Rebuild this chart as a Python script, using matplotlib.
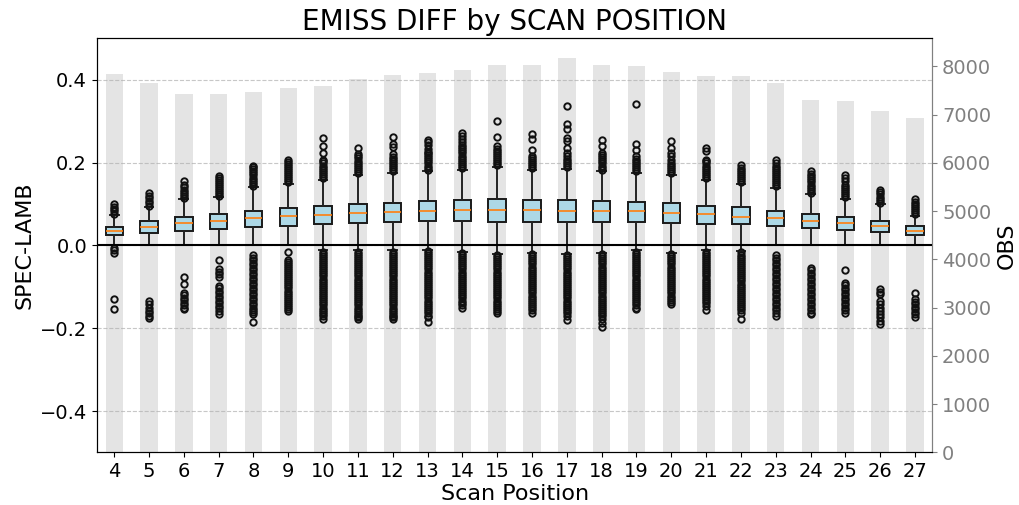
import matplotlib
matplotlib.use("Agg")
import matplotlib.pyplot as plt

positions = list(range(4, 28))
obs_counts = [7849, 7663, 7428, 7428, 7463, 7552, 7593, 7737, 7820, 7869, 7923, 8035,
              8035, 8171, 8035, 8006, 7882, 7799, 7799, 7649, 7312, 7277, 7077, 6920]

# box statistics (SPEC-LAMB)
q1 = [0.025, 0.031, 0.035, 0.039, 0.044, 0.048, 0.052, 0.055, 0.057, 0.059, 0.059, 0.057,
      0.057, 0.057, 0.057, 0.057, 0.055, 0.051, 0.051, 0.047, 0.042, 0.038, 0.033, 0.024]
med = [0.0345, 0.044, 0.053, 0.059, 0.066, 0.071, 0.074, 0.079, 0.081, 0.084, 0.086, 0.086,
       0.086, 0.083, 0.083, 0.083, 0.079, 0.075, 0.069, 0.066, 0.060, 0.053, 0.047, 0.036]
q3 = [0.045, 0.058, 0.068, 0.075, 0.084, 0.090, 0.095, 0.101, 0.103, 0.108, 0.109, 0.111,
      0.110, 0.110, 0.108, 0.105, 0.103, 0.096, 0.092, 0.084, 0.076, 0.068, 0.060, 0.047]
whis_lo = [0.0, 0.0, 0.0, 0.0, 0.0, 0.0, -0.012, -0.012, -0.012, -0.010, -0.015, -0.020,
           -0.018, -0.020, -0.018, -0.012, -0.018, -0.012, -0.014, 0.0, 0.0, 0.0, 0.0, 0.0]
whis_hi = [0.073, 0.093, 0.112, 0.116, 0.141, 0.149, 0.159, 0.171, 0.175, 0.179, 0.183, 0.190,
           0.183, 0.185, 0.179, 0.175, 0.171, 0.159, 0.149, 0.139, 0.123, 0.112, 0.099, 0.072]

# outliers, in thousandths
fliers_high = [
    [76, 82, 88, 94, 100],
    [96, 102, 108, 114, 120, 126],
    [115, 120, 125, 130, 135, 140, 145, 155],
    [119, 124, 129, 134, 139, 144, 149, 154, 159, 164, 167],
    [144, 149, 154, 159, 164, 169, 174, 179, 184, 189, 193],
    [152, 157, 162, 167, 172, 177, 182, 187, 192, 197, 202, 207],
    [163, 168, 173, 178, 183, 188, 193, 198, 203, 207, 224, 239, 260],
    [175, 180, 185, 190, 195, 200, 205, 210, 215, 220, 235],
    [179, 184, 189, 194, 199, 204, 209, 214, 220, 238, 246, 262],
    [183, 188, 193, 198, 203, 208, 213, 218, 222, 226, 234, 242, 250, 255],
    [187, 192, 197, 202, 207, 212, 217, 222, 227, 232, 237, 242, 250, 258, 265, 271],
    [194, 199, 204, 209, 214, 219, 224, 229, 234, 239, 261, 300],
    [187, 192, 197, 202, 207, 211, 215, 230, 257, 269],
    [189, 194, 199, 204, 209, 215, 223, 235, 251, 259, 281, 293, 337],
    [183, 188, 193, 198, 203, 208, 213, 218, 223, 239, 255],
    [179, 184, 189, 194, 199, 204, 209, 215, 230, 246, 341],
    [175, 180, 185, 190, 195, 200, 207, 215, 223, 235, 251],
    [163, 168, 173, 178, 183, 188, 193, 198, 203, 207, 227, 235],
    [153, 158, 163, 168, 173, 178, 183, 188, 195],
    [143, 148, 153, 158, 163, 168, 173, 178, 183, 188, 193, 198, 207],
    [127, 132, 137, 142, 147, 152, 157, 162, 167, 172, 179],
    [116, 121, 126, 131, 136, 141, 147, 155, 163, 171],
    [103, 108, 113, 118, 123, 128, 135],
    [76, 81, 86, 91, 96, 101, 106, 111],
]
fliers_low = [
    [-6, -12, -19, -130, -153],
    [-134, -142, -150, -158, -164, -170, -176],
    [-76, -94, -114, -120, -126, -132, -138, -144, -150, -154],
    [-34, -58, -64, -70, -77, -98, -104, -110, -116, -122, -128, -134, -140, -146, -152, -158, -166],
    [-24, -30, -36, -42, -48, -54, -60, -66, -72, -78, -84, -90, -96, -102, -108, -114, -120,
     -126, -132, -138, -144, -150, -156, -161, -166, -185],
    [-16, -34, -39, -44, -49, -54, -59, -64, -69, -74, -79, -84, -89, -94, -99, -104, -109, -114,
     -119, -124, -129, -134, -139, -144, -149, -154, -158],
    [-15, -20, -25, -30, -35, -40, -45, -50, -55, -60, -65, -70, -75, -80, -85, -90, -95, -100,
     -105, -110, -115, -120, -125, -130, -135, -140, -145, -150, -155, -160, -165, -170, -177],
    [-15, -20, -25, -30, -35, -40, -45, -50, -55, -60, -65, -70, -75, -80, -85, -90, -95, -100,
     -105, -110, -115, -120, -125, -130, -135, -140, -145, -150, -155, -160, -165, -170, -174, -178],
    [-15, -20, -25, -30, -35, -40, -45, -50, -55, -60, -65, -70, -75, -80, -85, -90, -95, -100,
     -105, -110, -115, -120, -125, -130, -135, -140, -145, -150, -155, -160, -165, -170, -174, -178],
    [-13, -18, -23, -28, -33, -38, -43, -48, -53, -58, -63, -68, -73, -78, -83, -88, -93, -98,
     -103, -108, -113, -118, -123, -128, -133, -138, -143, -148, -153, -158, -163, -170, -174, -186],
    [-18, -23, -28, -33, -38, -43, -48, -53, -58, -63, -68, -73, -78, -83, -88, -93, -98, -103,
     -108, -113, -118, -123, -128, -133, -138, -143, -150],
    [-23, -28, -33, -38, -43, -48, -53, -58, -63, -68, -73, -78, -83, -88, -93, -98, -103, -108,
     -113, -118, -123, -128, -133, -138, -143, -148, -153, -158, -162],
    [-21, -26, -31, -36, -41, -46, -51, -56, -61, -66, -71, -76, -81, -86, -91, -96, -101, -106,
     -111, -116, -121, -126, -131, -136, -141, -146, -151, -156, -162],
    [-23, -28, -33, -38, -43, -48, -53, -58, -63, -68, -73, -78, -83, -88, -93, -98, -103, -108,
     -113, -118, -123, -128, -133, -138, -143, -148, -153, -158, -163, -170, -181],
    [-21, -26, -31, -36, -41, -46, -51, -56, -61, -66, -71, -76, -81, -86, -91, -96, -101, -106,
     -111, -116, -121, -126, -131, -136, -141, -146, -151, -156, -161, -166, -170, -178, -188, -196],
    [-15, -20, -25, -30, -35, -40, -45, -50, -55, -60, -65, -70, -75, -80, -85, -90, -95, -100,
     -105, -110, -115, -120, -125, -130, -135, -140, -145, -150, -154],
    [-21, -26, -31, -36, -41, -46, -51, -56, -61, -66, -71, -76, -81, -86, -91, -96, -101, -106,
     -111, -116, -121, -126, -131, -136, -142],
    [-15, -20, -25, -30, -35, -40, -45, -50, -55, -60, -65, -70, -75, -80, -85, -90, -95, -100,
     -105, -110, -115, -120, -125, -130, -135, -140, -146, -156],
    [-17, -22, -27, -32, -37, -42, -47, -52, -57, -62, -67, -72, -77, -82, -87, -92, -97, -102,
     -107, -112, -117, -122, -127, -132, -137, -142, -147, -152, -157, -162, -177],
    [-24, -30, -36, -42, -48, -54, -60, -66, -72, -78, -84, -90, -96, -102, -108, -114, -120,
     -126, -132, -138, -144, -150, -156, -162, -170],
    [-54, -60, -66, -72, -78, -84, -90, -96, -102, -108, -114, -120, -126, -132, -138, -144,
     -150, -156, -162, -166],
    [-59, -90, -96, -102, -108, -114, -120, -126, -132, -138, -144, -150, -156, -162],
    [-106, -112, -118, -134, -142, -150, -158, -166, -174, -182, -190],
    [-116, -130, -136, -142, -148, -154, -160, -166, -174],
]

right_ticks = [0, 1000, 2000, 3000, 4000, 5000, 6000, 7000, 8000]
left_ticks = [-0.4, -0.2, 0.0, 0.2, 0.4]

fig = plt.figure(figsize=(10.19, 5.05), dpi=100)
ax = fig.add_axes([0.095, 0.104, 0.820, 0.820])
ax2 = ax.twinx()

ax2.bar(positions, obs_counts, width=0.5, color='lightgray', alpha=0.6, zorder=1)
ax2.set_ylim(0, max(obs_counts) * 1.05)
ax2.set_yticks(right_ticks)
ax2.tick_params(axis='y', colors='gray', labelsize=14)
ax2.set_ylabel('OBS', fontsize=16, color='black')
ax2.spines['right'].set_color('gray')

ax.set_zorder(ax2.get_zorder() + 1)
ax.patch.set_visible(False)

stats = []
for i, p in enumerate(positions):
    fl = [v / 1000 for v in fliers_high[i]] + [v / 1000 for v in fliers_low[i]]
    stats.append(dict(med=med[i], q1=q1[i], q3=q3[i], whislo=whis_lo[i],
                      whishi=whis_hi[i], fliers=fl))

ax.bxp(stats, positions=positions, widths=0.5, patch_artist=True,
       boxprops=dict(facecolor='#add8e6', edgecolor='#1a1a1a', linewidth=1.4),
       medianprops=dict(color='#ff7f0e', linewidth=1.2),
       whiskerprops=dict(color='#222222', linewidth=1.4),
       capprops=dict(color='#222222', linewidth=1.4),
       flierprops=dict(marker='o', markersize=4.6, markerfacecolor='none',
                       markeredgecolor='#111111', markeredgewidth=1.4))

ax.axhline(0, color='black', linewidth=1.5, zorder=3)
ax.grid(axis='y', linestyle='--', alpha=0.7)
ax.set_axisbelow(True)
ax.set_ylim(-0.5, 0.5)
ax.set_xlim(3.5, 27.5)
ax.set_yticks(left_ticks)
ax.set_xticks(positions)
ax.set_xticklabels([str(p) for p in positions])
ax.tick_params(labelsize=14)
ax.spines['right'].set_color('gray')
ax.set_xlabel('Scan Position', fontsize=16, labelpad=2)
ax.set_ylabel('SPEC-LAMB', fontsize=16)
ax.set_title('EMISS DIFF by SCAN POSITION', fontsize=20)

fig.savefig('out.png', dpi=100)
